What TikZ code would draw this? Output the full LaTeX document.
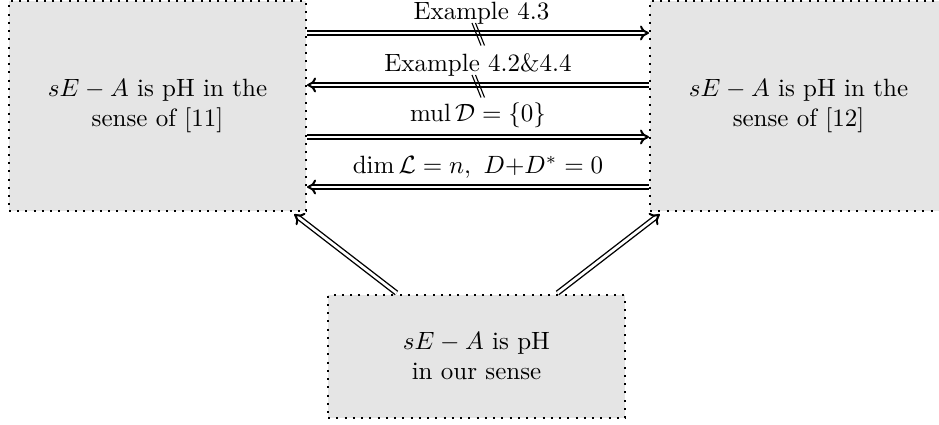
\documentclass[tikz,border=0pt]{standalone}
\usetikzlibrary{arrows.meta,calc,decorations.markings}
\begin{document}
\begin{tikzpicture}[x=0.4pt,y=-0.4pt,
  pbox/.style={draw,fill=gray!20,line width=0.8pt,dash pattern=on 0.8pt off 2.5pt,
    align=center,inner sep=0pt,minimum width=118.8pt},
  implies/.style={double,double distance=1.1pt,line width=0.55pt,shorten >=1.6pt,
    decoration={markings,mark=at position 1 with {\arrow[line width=0.8pt]{Computer Modern Rightarrow[length=3.6pt,width=6pt]}}},
    postaction={decorate}},
  slash/.style={line width=0.45pt}]
\useasboundingbox (0,0) rectangle (939,425);
\node[pbox,minimum height=84pt] (L) at (157.5,106) {$sE-A$ is pH in the\\ sense of [11]};
\node[pbox,minimum height=84pt] (R) at (798.5,106) {$sE-A$ is pH in the\\ sense of [12]};
\node[pbox,minimum height=49.2pt] (B) at (476.5,356.5) {$sE-A$ is pH\\ in our sense};
\coordinate (y1) at (0,33);
\coordinate (y2) at (0,85);
\coordinate (y3) at (0,137);
\coordinate (y4) at (0,187);
\draw[implies] (L.east |- y1) -- node[above,pos=0.51] (t1) {Example 4.3} coordinate[pos=0.5] (m1) (R.west |- y1);
\draw[implies] (R.west |- y2) -- node[above,pos=0.5] (t2) {Example 4.2\&4.4} coordinate[pos=0.5] (m2) (L.east |- y2);
\draw[implies] (L.east |- y3) -- node[above] (t3) {$\mathrm{mul}\,\mathcal{D}=\{0\}$} (R.west |- y3);
\draw[implies] (R.west |- y4) -- node[above] (t4) {$\dim\mathcal{L}=n,\ D{+}D^*=0$} (L.east |- y4);
\foreach \m in {m1,m2}{
  \draw[slash] ($(\m)+(-6,-10)$) -- ($(\m)+(3,12.5)$);
  \draw[slash] ($(\m)+(-2.5,-10)$) -- ($(\m)+(6.5,12.5)$);
}
\draw[implies] ($(B.north)+(-80,-1)$) -- ($(L.south east)+(-13,2)$);
\draw[implies] ($(B.north)+(81,-1)$) -- ($(R.south west)+(11,2)$);
\end{tikzpicture}
\end{document}
